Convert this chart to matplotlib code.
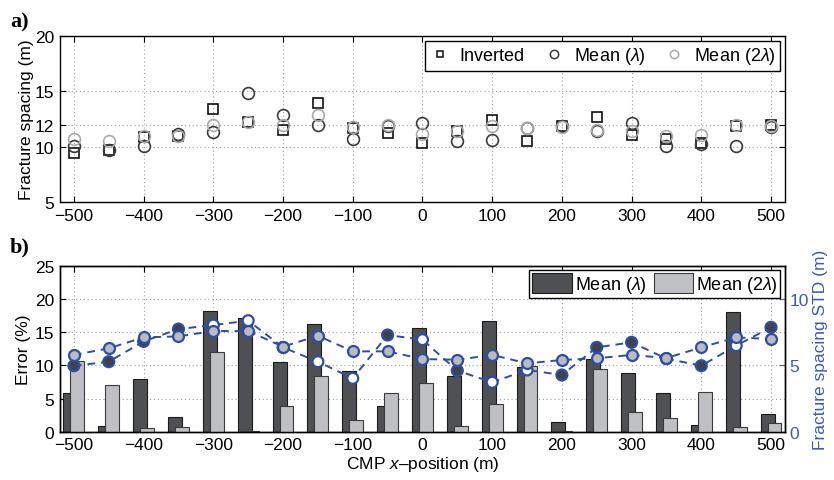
import matplotlib
matplotlib.use("Agg")
import matplotlib.pyplot as plt
from matplotlib.patches import Patch
from matplotlib.lines import Line2D

plt.rcParams['font.family'] = ['Liberation Sans', 'DejaVu Sans']
plt.rcParams['mathtext.fontset'] = 'custom'
plt.rcParams['mathtext.rm'] = 'Liberation Sans'
plt.rcParams['mathtext.it'] = 'Liberation Sans:italic'
plt.rcParams['font.size'] = 12

# ---------------- data ----------------
cmp_x = [-500, -450, -400, -350, -300, -250, -200, -150, -100, -50, 0,
         50, 100, 150, 200, 250, 300, 350, 400, 450, 500]

inverted = [9.43, 9.73, 10.9, 10.95, 13.4, 12.26, 11.5, 13.9, 11.66, 11.24, 10.3,
            11.45, 12.41, 10.48, 11.9, 12.7, 11.06, 10.7, 10.33, 11.9, 11.96]
mean_l = [10.1, 9.7, 10.1, 11.15, 11.35, 14.82, 12.86, 11.96, 10.7, 11.84, 12.14,
          10.54, 10.6, 11.66, 11.9, 11.4, 12.14, 10.04, 10.24, 10.1, 11.75]
mean_2l = [10.7, 10.54, 10.96, 11.0, 11.96, 12.25, 11.96, 12.86, 11.75, 11.99, 11.15,
           11.45, 11.84, 11.66, 11.8, 11.5, 11.45, 10.93, 11.06, 11.96, 11.9]

err_l = [5.9, 0.8, 7.9, 2.2, 18.2, 17.2, 10.5, 16.2, 9.1, 3.9, 15.6,
         8.4, 16.7, 9.8, 1.4, 11.0, 8.9, 5.9, 1.0, 18.0, 2.6]
err_2l = [10.7, 7.1, 0.5, 0.75, 11.95, 0.1, 3.9, 8.4, 1.7, 5.9, 7.4,
          0.8, 4.2, 9.9, 0.1, 9.5, 3.0, 2.1, 6.0, 0.75, 1.3]

std_l = [4.97, 5.27, 6.8, 7.73, 8.03, 8.36, 6.35, 5.27, 4.02, 7.28, 6.93,
         4.6, 3.72, 4.65, 4.27, 6.35, 6.73, 5.5, 4.97, 6.48, 7.86]
std_2l = [5.78, 6.28, 7.1, 7.18, 7.58, 7.58, 6.4, 7.23, 6.05, 6.05, 5.47,
          5.42, 5.78, 5.15, 5.4, 5.53, 5.78, 5.55, 6.35, 7.1, 6.98]

xticks = [-500, -400, -300, -200, -100, 0, 100, 200, 300, 400, 500]
yticks_top = [5, 10, 12, 15, 20]
yticks_err = [0, 5, 10, 15, 20, 25]
yticks_std = [0, 5, 10]

# ---------------- style ----------------
DARK_BAR = '#4e5053'
LIGHT_BAR = '#bfc0c3'
BLUE = '#2d4ea8'
BLUE_TXT = '#3c5cb4'
DARK_FACE = '#3e4249'
LIGHT_FACE = '#b9bbbe'
TICK_FS = 12.5
LAB_FS = 12.5
LEG_FS = 13

fig = plt.figure(figsize=(8.34, 4.81), dpi=100)
ax1 = fig.add_axes([0.0719, 0.578, 0.8693, 0.3451])
ax2 = fig.add_axes([0.0719, 0.1004, 0.8693, 0.3451])

def style_axes(ax, right=True):
    ax.tick_params(direction='in', top=True, right=right, length=4, width=0.8,
                   labelsize=TICK_FS)
    ax.tick_params(axis='x', pad=4)
    ax.tick_params(axis='y', pad=4)
    for s in ax.spines.values():
        s.set_linewidth(1.0)
    ax.grid(True, linestyle=(0, (1, 2.5)), color='#a0a0a0', linewidth=0.8)
    ax.set_axisbelow(True)

# ---------------- panel a ----------------
style_axes(ax1)
ax1.plot(cmp_x, inverted, linestyle='none', marker='s', ms=6.5, mfc='none',
         mec='#111111', mew=1.2)
ax1.plot(cmp_x, mean_l, linestyle='none', marker='o', ms=8.5, mfc='none',
         mec='#3a3a3a', mew=1.2)
ax1.plot(cmp_x, mean_2l, linestyle='none', marker='o', ms=8.5, mfc='none',
         mec='#aaaaaa', mew=1.2)
ax1.set_xlim(-520, 520)
ax1.set_ylim(5, 20)
ax1.set_xticks(xticks)
ax1.set_yticks(yticks_top)
ax1.set_ylabel('Fracture spacing (m)', fontsize=LAB_FS, labelpad=1)
handles_a = [
    Line2D([], [], linestyle='none', marker='s', ms=5, mfc='none', mec='#111111', mew=1.1),
    Line2D([], [], linestyle='none', marker='o', ms=6, mfc='none', mec='#3a3a3a', mew=1.1),
    Line2D([], [], linestyle='none', marker='o', ms=6, mfc='none', mec='#aaaaaa', mew=1.1),
]
leg = ax1.legend(handles_a, ['Inverted', r'Mean ($\mathit{\lambda}$)', r'Mean (2$\mathit{\lambda}$)'],
                 loc='upper right', ncol=3, fancybox=False, edgecolor='black',
                 framealpha=1, borderaxespad=0.25, handlelength=1.2, handletextpad=0.5,
                 columnspacing=1.0, borderpad=0.25, fontsize=LEG_FS)
leg.get_frame().set_linewidth(1.0)

# ---------------- panel b ----------------
style_axes(ax2, right=False)
xl = [v - 5 for v in cmp_x]
xr = [v + 5 for v in cmp_x]
ax2.bar(xl, err_l, width=20, color=DARK_BAR, edgecolor='#1a1a1a', linewidth=0.8, zorder=2)
ax2.bar(xr, err_2l, width=20, color=LIGHT_BAR, edgecolor='#3a3a3a', linewidth=0.8, zorder=3)
ax2.set_xlim(-520, 520)
ax2.set_ylim(0, 25)
ax2.set_xticks(xticks)
ax2.set_yticks(yticks_err)
ax2.set_ylabel('Error (%)', fontsize=LAB_FS, labelpad=3)
ax2.set_xlabel(r'CMP $x$–position (m)', fontsize=LAB_FS, labelpad=1)

ax3 = ax2.twinx()
ax3.set_ylim(0, 12.5)
ax3.set_xlim(-520, 520)
ax3.set_yticks(yticks_std)
ax3.tick_params(axis='y', direction='in', colors=BLUE_TXT, length=4, width=0.8,
                labelsize=TICK_FS, pad=3)
for s in ax3.spines.values():
    s.set_linewidth(1.0)
ax3.set_ylabel('Fracture spacing STD (m)', color=BLUE_TXT, fontsize=LAB_FS, labelpad=3)

# marker faces look hollow where they sit over a dark bar
faces_l = ['white' if 2 * s < e else DARK_FACE for s, e in zip(std_l, err_l)]
ax3.plot(cmp_x, std_l, linestyle=(0, (4, 3)), color=BLUE, linewidth=1.4, zorder=3)
ax3.scatter(cmp_x, std_l, s=62, c=faces_l, edgecolors=BLUE, linewidths=1.6, zorder=4)
ax3.plot(cmp_x, std_2l, linestyle=(0, (4, 3)), color=BLUE, linewidth=1.4, zorder=5)
ax3.scatter(cmp_x, std_2l, s=62, c=LIGHT_FACE, edgecolors=BLUE, linewidths=1.6, zorder=6)

handles_b = [Patch(facecolor=DARK_BAR, edgecolor='#1a1a1a', linewidth=0.8),
             Patch(facecolor=LIGHT_BAR, edgecolor='#3a3a3a', linewidth=0.8)]
leg2 = ax3.legend(handles_b, [r'Mean ($\mathit{\lambda}$)', r'Mean (2$\mathit{\lambda}$)'],
                  loc='upper right', ncol=2, fancybox=False, edgecolor='black',
                  framealpha=1, borderaxespad=0.25, handlelength=2.2, handleheight=1.3,
                  handletextpad=0.15, columnspacing=0.4, borderpad=0.15, fontsize=LEG_FS)
leg2.get_frame().set_linewidth(1.0)

fig.text(0.012, 0.943, 'a)', fontsize=16, fontweight='bold', family='Liberation Serif')
fig.text(0.012, 0.476, 'b)', fontsize=16, fontweight='bold', family='Liberation Serif')

fig.savefig('out.png', dpi=100)
